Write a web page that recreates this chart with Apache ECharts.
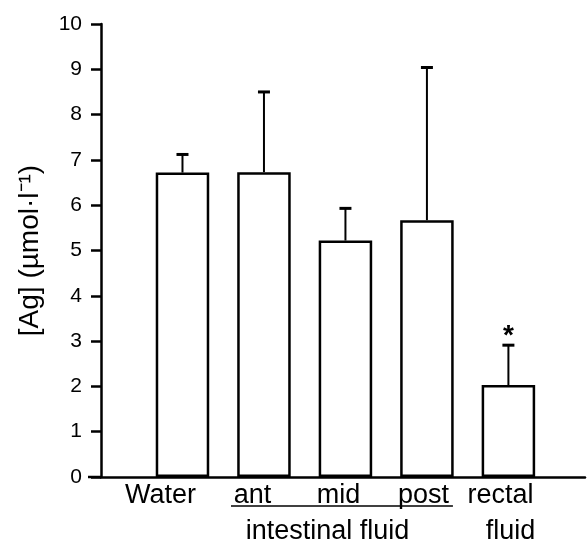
<!DOCTYPE html>
<html>
<head>
<meta charset="utf-8">
<script src="https://cdn.jsdelivr.net/npm/echarts@6/dist/echarts.min.js"></script>
<style>
html,body{margin:0;padding:0;background:#fff;}
#c{width:588px;height:554px;}
</style>
</head>
<body>
<div id="c"></div>
<script>
const categories = ['Water', 'ant', 'mid', 'post', 'rectal'];
const secondLine = ['', '', 'intestinal fluid', '', 'fluid'];
const means = [6.72, 6.73, 5.22, 5.67, 2.03];
const errors = [0.40, 1.77, 0.71, 3.37, 0.88];
const significance = ['', '', '', '', '*'];
const yTicks = [0, 1, 2, 3, 4, 5, 6, 7, 8, 9, 10];
const yTitle = '[Ag] (µmol·l⁻¹)';

const FONT = "'Liberation Sans', Arial, Helvetica, sans-serif";
const chart = echarts.init(document.getElementById('c'), null, {renderer: 'canvas'});

const barData = categories.map((c, i) => [i + 1, means[i]]);
const errData = categories.map((c, i) => [i + 1, means[i], errors[i], i]);

const line1Style = ['w', 'a', 'm', 'p', 'r'];
const line2Style = ['', '', 'i', '', 'f'];

const richBase = {fontSize: 27, lineHeight: 36, color: '#000', fontFamily: FONT};
const rich = {
  w: Object.assign({padding: [0, 44, 0, 0]}, richBase),
  a: Object.assign({padding: [0, 23, 0, 0]}, richBase),
  m: Object.assign({padding: [0, 14, 0, 0]}, richBase),
  i: Object.assign({padding: [0, 36, 0, 0]}, richBase),
  p: Object.assign({padding: [0, 7, 0, 0]}, richBase),
  r: Object.assign({padding: [0, 16, 0, 0]}, richBase),
  f: Object.assign({padding: [0, 0, 0, 4]}, richBase)
};

const option = {
  animation: false,
  backgroundColor: '#fff',
  grid: {left: 101, top: 24, right: 3, bottom: 77, containLabel: false},
  xAxis: {
    type: 'value', min: 0, max: 5.94, interval: 1,
    axisLine: {show: true, lineStyle: {color: '#000', width: 2.5}},
    axisTick: {show: false},
    splitLine: {show: false},
    axisLabel: {
      margin: 1,
      formatter: function (v) {
        const i = Math.round(v) - 1;
        if (i < 0 || i >= categories.length || Math.abs(v - (i + 1)) > 1e-6) return '';
        let s = '{' + line1Style[i] + '|' + categories[i] + '}';
        if (secondLine[i]) s += '\n{' + line2Style[i] + '|' + secondLine[i] + '}';
        return s;
      },
      rich: rich
    }
  },
  yAxis: {
    type: 'value', min: yTicks[0], max: yTicks[yTicks.length - 1], interval: 1,
    axisLine: {show: true, lineStyle: {color: '#000', width: 2.5}},
    axisTick: {show: true, length: 10, lineStyle: {color: '#000', width: 2.5}},
    splitLine: {show: false},
    axisLabel: {margin: 19, color: '#000', fontSize: 21, fontFamily: FONT},
    name: yTitle,
    nameLocation: 'middle',
    nameGap: 57,
    nameTextStyle: {color: '#000', fontSize: 28, fontFamily: FONT}
  },
  series: [
    {
      type: 'bar',
      data: barData,
      barWidth: 53.5,
      itemStyle: {color: '#fff', borderColor: '#000', borderWidth: 2.5},
      z: 2
    },
    {
      type: 'custom',
      data: errData,
      z: 3,
      renderItem: function (params, api) {
        const x = api.value(0), m = api.value(1), e = api.value(2);
        const idx = api.value(3);
        const base = api.coord([x, m]);
        const top = api.coord([x, m + e]);
        const children = [
          {type: 'line', shape: {x1: base[0], y1: base[1], x2: top[0], y2: top[1]},
           style: {stroke: '#000', lineWidth: 2}},
          {type: 'line', shape: {x1: top[0] - 6, y1: top[1], x2: top[0] + 6, y2: top[1]},
           style: {stroke: '#000', lineWidth: 3}}
        ];
        const sig = significance[idx];
        if (sig) {
          children.push({type: 'text', style: {text: sig, x: top[0], y: top[1] + 5,
            textAlign: 'center', textVerticalAlign: 'bottom', fontSize: 28, fontWeight: 'bold',
            fontFamily: FONT, fill: '#000'}});
        }
        return {type: 'group', children: children};
      }
    }
  ]
};
chart.setOption(option);

// underline below "ant mid post" labels, placed relative to the axis scale
const pA = chart.convertToPixel({xAxisIndex: 0}, 2);
const pP = chart.convertToPixel({xAxisIndex: 0}, 4);
const pY = chart.convertToPixel({yAxisIndex: 0}, 0);
chart.setOption({
  graphic: [
    {
      type: 'line',
      shape: {x1: pA - 33, y1: pY + 29, x2: pP + 26, y2: pY + 29},
      style: {stroke: '#000', lineWidth: 1.5}
    },
    {
      type: 'line',
      shape: {x1: 88, y1: pY, x2: 101, y2: pY},
      style: {stroke: '#000', lineWidth: 2.5}
    }
  ]
});
</script>
</body>
</html>
